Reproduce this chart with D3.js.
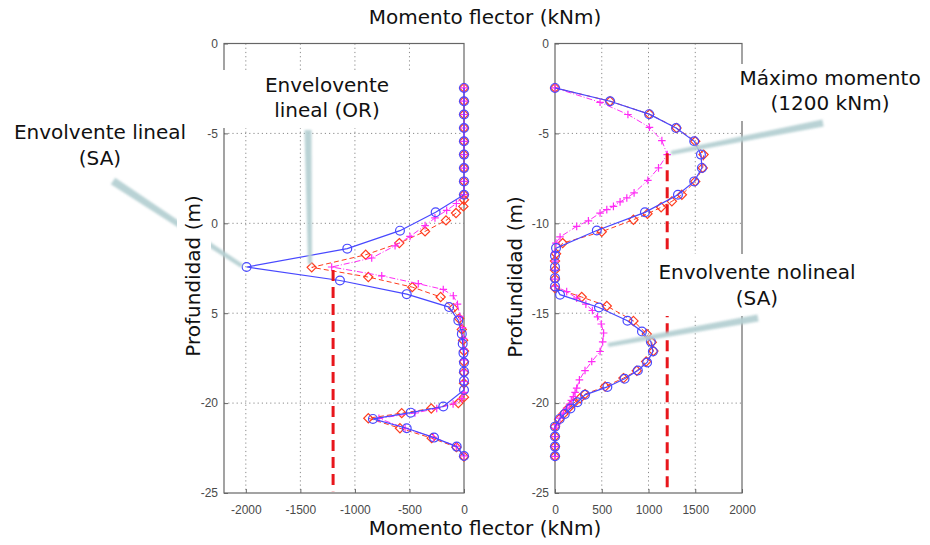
<!DOCTYPE html>
<html>
<head>
<meta charset="utf-8">
<script src="https://cdn.jsdelivr.net/npm/d3@7"></script>
<style>
  body { margin: 0; background: #fff; }
  svg { display: block; }
</style>
</head>
<body>
<svg id="chart" width="930" height="545"></svg>
<script>
// ---- Bending moment envelopes along the pile (depth in m, moment in kNm) ----

// Left panel: negative moments
const leftDepthSA = [-2.47,-3.21,-3.95,-4.70,-5.44,-6.18,-6.93,-7.67,-8.41,-9.39,-10.41,-11.41,-12.43,-13.18,-13.94,-14.66,-15.40,-16.15,-16.70,-17.22,-17.74,-18.25,-18.76,-19.27,-20.19,-20.53,-20.88,-21.40,-21.92,-22.42,-22.94];
const leftMomentSA = [0,0,0,0,0,0,0,0,0,-260,-587,-1070,-1993,-1137,-525,-137,-52,-20,-12,-5,0,0,0,0,-190,-489,-835,-525,-275,-67,0];

const leftDepthOR = [-2.47,-3.21,-3.95,-4.70,-5.44,-6.18,-6.93,-7.67,-8.41,-8.69,-9.06,-9.43,-9.84,-10.45,-11.10,-11.75,-12.45,-12.99,-13.55,-14.10,-14.72,-15.30,-15.90,-16.50,-17.10,-17.70,-18.30,-18.90,-19.67,-20.00,-20.30,-20.56,-20.84,-21.40,-21.95,-22.45,-22.97];
const leftMomentOR = [0,0,0,0,0,0,0,0,0,0,-6,-73,-165,-357,-593,-901,-1396,-877,-474,-214,-98,-45,-20,-8,0,0,0,0,0,-52,-300,-571,-877,-587,-296,-70,0];

const leftDepthNL = [-2.47,-3.21,-3.95,-4.70,-5.44,-6.18,-6.93,-7.67,-8.41,-8.90,-9.28,-9.70,-10.13,-10.73,-11.25,-11.93,-12.43,-12.92,-13.36,-13.68,-14.03,-14.50,-15.18,-15.80,-16.40,-17.00,-17.60,-18.20,-18.80,-19.40,-19.75,-20.05,-20.30,-20.55,-20.85,-21.40,-21.90,-22.40,-22.94];
const leftMomentNL = [0,0,0,0,0,0,0,0,0,-70,-159,-266,-357,-495,-632,-846,-1213,-754,-419,-190,-98,-60,-37,-15,-5,0,0,0,0,0,-20,-100,-250,-450,-780,-540,-280,-70,0];

// Right panel: positive moments
const rightDepthSA = [-2.47,-3.21,-3.93,-4.70,-5.44,-6.18,-6.92,-7.67,-8.41,-9.39,-10.40,-11.38,-11.80,-12.43,-13.05,-13.51,-13.97,-14.68,-15.42,-16.02,-16.58,-17.13,-17.74,-18.19,-18.65,-19.10,-19.54,-19.95,-20.30,-20.60,-20.88,-21.31,-21.86,-22.42,-22.96];
const rightMomentSA = [0,589,1007,1295,1489,1561,1571,1489,1315,962,447,11,0,0,0,0,54,470,775,930,1025,1047,985,886,744,560,321,240,165,105,50,0,0,0,0];

const rightDepthOR = [-2.47,-3.21,-3.93,-4.70,-5.44,-6.18,-6.92,-7.67,-8.41,-8.78,-9.11,-9.47,-9.80,-10.47,-11.10,-11.69,-12.10,-12.60,-13.10,-13.60,-14.10,-14.60,-15.43,-16.16,-16.62,-17.10,-17.69,-18.20,-18.61,-19.08,-19.50,-19.73,-20.00,-20.30,-20.60,-20.90,-21.31,-21.86,-22.42,-22.96];
const rightMomentOR = [0,589,1010,1300,1500,1589,1580,1500,1357,1250,1135,989,839,500,82,11,0,0,0,0,286,554,839,982,1035,1053,975,875,732,536,321,268,200,140,90,45,0,0,0,0];

const rightDepthNL = [-2.47,-3.27,-3.95,-4.66,-5.40,-6.18,-6.92,-7.61,-8.31,-8.59,-8.81,-9.06,-9.24,-9.43,-9.86,-10.17,-10.76,-11.10,-11.60,-12.10,-12.60,-13.10,-13.50,-13.80,-14.16,-14.50,-14.85,-15.20,-15.60,-16.10,-16.60,-17.13,-17.69,-18.19,-18.71,-19.17,-19.40,-19.64,-19.85,-20.05,-20.28,-20.56,-20.84,-21.20,-21.40,-21.86,-22.42,-22.96];
const rightMomentNL = [0,482,780,1010,1143,1200,1107,993,846,768,696,625,554,482,357,232,54,10,0,0,0,0,0,125,232,330,400,455,495,520,510,482,393,321,261,232,215,196,175,155,125,89,54,18,0,0,0,0];

// Design limit (maximum moment) and the depth span of its reference line
const momentLimit = 1200;
const limitSpanLeft = [-12.6, -24.9];
const limitSpanRight = [-6.1, -24.9];

// Axis ticks
const xTicksLeft = [-2000, -1500, -1000, -500, 0];
const xTicksRight = [0, 500, 1000, 1500, 2000];
const yTicks = [0, -5, -10, -15, -20, -25];

// Axis titles
const axisTitle = "Momento flector (kNm)";
const depthTitle = "Profundidad (m)";

// ---- Drawing ----
const svg = d3.select("#chart");
const plotTop = 43.5, plotBottom = 493;
const y = d3.scaleLinear().domain([0, -25]).range([plotTop, plotBottom]);
const xL = d3.scaleLinear().domain([-2200, 0]).range([224, 464]);
const xR = d3.scaleLinear().domain([0, 2000]).range([555, 742]);

const colBlue = "#4848ff", colRed = "#ff3c1e", colMag = "#ff2cf5";
const tickFont = "'Liberation Sans', Arial, sans-serif";
const textFont = "'DejaVu Sans', Verdana, sans-serif";
const plainNumber = d => String(d);   // ASCII hyphen for negatives

const defs = svg.append("defs");
defs.append("filter").attr("id", "soft")
  .attr("x", "-20%").attr("y", "-20%").attr("width", "140%").attr("height", "140%")
  .append("feGaussianBlur").attr("stdDeviation", 0.9);

const zip = (zs, ms) => zs.map((z, i) => ({ z, m: ms[i] }));

function drawPanel(x, xTicks, series, limitSpan) {
  const g = svg.append("g");
  const [x0, x1] = x.range();

  // grid
  const grid = g.append("g").attr("stroke", "#8a8a8a").attr("stroke-width", 1)
    .attr("stroke-dasharray", "1.2,3").attr("fill", "none");
  xTicks.filter(t => x(t) > x0 + 1 && x(t) < x1 - 1).forEach(t => {
    grid.append("line").attr("x1", x(t)).attr("x2", x(t)).attr("y1", plotTop).attr("y2", plotBottom);
  });
  yTicks.filter(t => y(t) > plotTop + 1 && y(t) < plotBottom - 1).forEach(t => {
    grid.append("line").attr("x1", x0).attr("x2", x1).attr("y1", y(t)).attr("y2", y(t));
  });

  // axes
  const ax = g.append("g").attr("transform", `translate(0,${plotBottom})`)
    .call(d3.axisBottom(x).tickValues(xTicks).tickFormat(plainNumber)
      .tickSizeInner(-4).tickSizeOuter(0).tickPadding(12));
  const ay = g.append("g").attr("transform", `translate(${x0},0)`)
    .call(d3.axisLeft(y).tickValues(yTicks).tickFormat(plainNumber)
      .tickSizeInner(-4).tickSizeOuter(0).tickPadding(6));
  [ax, ay].forEach(a => {
    a.select(".domain").remove();
    a.selectAll("line").attr("stroke", "#666");
    a.selectAll("text").attr("fill", "#4a4a4a").style("font-family", tickFont).style("font-size", "12px");
  });

  // frame
  g.append("rect").attr("x", x0).attr("y", plotTop).attr("width", x1 - x0).attr("height", plotBottom - plotTop)
    .attr("fill", "none").attr("stroke", "#666").attr("stroke-width", 1.2);

  // series
  series.forEach(s => {
    const pts = zip(s.depth, s.moment);
    const line = d3.line().x(d => x(d.m)).y(d => y(d.z));
    g.append("path").datum(pts).attr("d", line).attr("fill", "none")
      .attr("stroke", s.color).attr("stroke-width", s.width)
      .attr("stroke-dasharray", s.dash);
    const mk = g.append("g").attr("fill", "none").attr("stroke", s.color).attr("stroke-width", 1.2);
    pts.forEach(d => {
      const cx = x(d.m), cy = y(d.z);
      if (s.marker === "circle") {
        mk.append("circle").attr("cx", cx).attr("cy", cy).attr("r", 4.4);
      } else if (s.marker === "diamond") {
        const r = 4.6;
        mk.append("path").attr("d", `M${cx},${cy - r}L${cx + r},${cy}L${cx},${cy + r}L${cx - r},${cy}Z`);
      } else {
        const r = 3.8;
        mk.append("path").attr("d", `M${cx - r},${cy}H${cx + r}M${cx},${cy - r}V${cy + r}`);
      }
    });
  });

  // maximum-moment reference line
  const lx = x(Math.sign(x.domain()[0] + x.domain()[1]) * momentLimit);
  g.append("line").attr("x1", lx).attr("x2", lx)
    .attr("y1", y(limitSpan[0])).attr("y2", y(limitSpan[1]))
    .attr("stroke", "#e8161c").attr("stroke-width", 3).attr("stroke-dasharray", "11,6");
  return g;
}

drawPanel(xL, xTicksLeft, [
  { depth: leftDepthOR, moment: leftMomentOR, color: colRed, width: 1, dash: "5,3", marker: "diamond" },
  { depth: leftDepthNL, moment: leftMomentNL, color: colMag, width: 1, dash: "6,2,1,2", marker: "plus" },
  { depth: leftDepthSA, moment: leftMomentSA, color: colBlue, width: 1.2, dash: null, marker: "circle" }
], limitSpanLeft);

drawPanel(xR, xTicksRight, [
  { depth: rightDepthOR, moment: rightMomentOR, color: colRed, width: 1, dash: "5,3", marker: "diamond" },
  { depth: rightDepthNL, moment: rightMomentNL, color: colMag, width: 1, dash: "6,2,1,2", marker: "plus" },
  { depth: rightDepthSA, moment: rightMomentSA, color: colBlue, width: 1.2, dash: null, marker: "circle" }
], limitSpanRight);

// callout pointers (tapered bands)
function pointer(x1, y1, x2, y2, w1, w2) {
  const dx = x2 - x1, dy = y2 - y1, L = Math.hypot(dx, dy);
  const nx = -dy / L, ny = dx / L;
  const p = [
    [x1 + nx * w1 / 2, y1 + ny * w1 / 2], [x2 + nx * w2 / 2, y2 + ny * w2 / 2],
    [x2 - nx * w2 / 2, y2 - ny * w2 / 2], [x1 - nx * w1 / 2, y1 - ny * w1 / 2]
  ];
  svg.append("path").attr("d", "M" + p.map(q => q.join(",")).join("L") + "Z")
    .attr("fill", "#b6d0d3").attr("opacity", 0.95).attr("filter", "url(#soft)");
}

// pointer to the linear SA envelope (passes behind the depth title box)
pointer(113, 181, 242, 266, 8, 4);

// white backing boxes behind labels
const box = (bx, by, w, h) => svg.append("rect").attr("x", bx).attr("y", by).attr("width", w).attr("height", h).attr("fill", "#fff");
box(177, 182, 34, 192);
box(222, 70, 194, 58);
box(733, 64, 197, 57);
box(651, 254, 219, 62);

pointer(308, 130, 310, 264, 7, 4);
pointer(823, 123, 671, 153, 7, 4);
pointer(758, 318, 608, 345, 7, 4);

// text
function label(lines, cx, baselines, size) {
  lines.forEach((t, i) => {
    svg.append("text").attr("x", cx).attr("y", baselines[i]).attr("text-anchor", "middle")
      .style("font-family", textFont).style("font-size", size + "px").attr("fill", "#111").text(t);
  });
}
label([axisTitle], 485, [24], 20);
label([axisTitle], 485, [535], 20);
label(["Envolvente lineal", "(SA)"], 100, [139, 165], 20);
label(["Envelovente", "lineal (OR)"], 327, [92, 117], 20);
label(["Máximo momento", "(1200 kNm)"], 830, [85, 110], 20);
label(["Envolvente nolineal", "(SA)"], 757, [279, 305], 20);

[[200, 276], [522, 277]].forEach(([px, py]) => {
  svg.append("text").attr("transform", `translate(${px},${py}) rotate(-90)`)
    .attr("text-anchor", "middle").style("font-family", textFont).style("font-size", "20px")
    .attr("fill", "#111").text(depthTitle);
});
</script>
</body>
</html>
